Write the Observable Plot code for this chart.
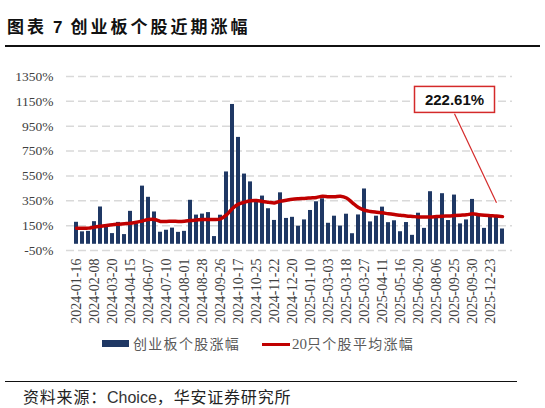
<!DOCTYPE html>
<html>
<head>
<meta charset="utf-8">
<script src="https://cdn.jsdelivr.net/npm/d3@7"></script>
<script src="https://cdn.jsdelivr.net/npm/@observablehq/plot@0.6"></script>
<style>
  html, body { margin: 0; padding: 0; background: #fff; }
  #wrap { position: relative; width: 545px; height: 408px; overflow: hidden; background: #fff; }
  #title { position: absolute; left: 7px; top: 13px; font-family: "Noto Sans CJK SC", sans-serif; font-weight: bold; font-size: 17px; color: #111; white-space: nowrap; letter-spacing: 3px; }
  #title .n { font-family: "Liberation Sans", Arial, sans-serif; margin: 0 5px 0 6px; }
  #rule1 { position: absolute; left: 5px; top: 45px; width: 535px; height: 1.5px; background: #111; }
  #chart { position: absolute; left: 0; top: 50px; }
  #legend { position: absolute; left: 0; top: 333px; width: 545px; height: 22px; font-family: "Noto Sans CJK SC", sans-serif; font-size: 14px; color: #595959; }
  .sw1 { position: absolute; left: 102px; top: 7px; width: 27px; height: 7px; background: #1F3864; }
  .t1 { position: absolute; left: 133px; top: 0px; letter-spacing: 1.3px; white-space: nowrap; }
  .sw2 { position: absolute; left: 262px; top: 9.5px; width: 28px; height: 3px; background: #C00000; }
  .t2 { position: absolute; left: 292px; top: 0px; letter-spacing: 1.3px; white-space: nowrap; }
  .t2 .num { font-family: "Liberation Serif", "DejaVu Serif", serif; letter-spacing: 0; font-size: 15px; }
  #rule2 { position: absolute; left: 5px; top: 381px; width: 512px; height: 1px; background: #111; }
  #source { position: absolute; left: 23px; top: 384px; font-family: "Noto Sans CJK SC", sans-serif; font-size: 16px; color: #222; white-space: nowrap; letter-spacing: 0.8px; }
  #source .en { font-family: "Liberation Sans", Arial, sans-serif; color: #333; letter-spacing: 0; }
</style>
</head>
<body>
<div id="wrap">
  <div id="title">图表<span class="n">7</span>创业板个股近期涨幅</div>
  <div id="rule1"></div>
  <div id="chart"></div>
  <div id="legend">
    <div class="sw1"></div><div class="t1">创业板个股涨幅</div>
    <div class="sw2"></div><div class="t2"><span class="num">20</span>只个股平均涨幅</div>
  </div>
  <div id="rule2"></div>
  <div id="source">资料来源：<span class="en">Choice</span>，华安证券研究所</div>
</div>
<script>
// Tick labels shown on the x axis (every third stock)
const tickLabels = ["2024-01-16","2024-02-08","2024-03-20","2024-04-15","2024-06-07","2024-07-10","2024-08-01","2024-08-28","2024-09-26","2024-10-17","2024-10-25","2024-11-22","2024-12-20","2025-01-10","2025-03-03","2025-03-18","2025-03-27","2025-04-11","2025-05-16","2025-06-20","2025-08-06","2025-09-25","2025-09-30","2025-12-23"];

// 创业板个股涨幅 (%) — one value per stock, 72 stocks
const stockGain = [177,100,104,182,300,148,86,176,78,265,165,468,378,260,97,113,130,96,104,354,235,243,255,62,234,582,1125,860,565,502,340,388,286,192,414,208,217,145,196,272,342,366,169,226,147,242,85,236,445,180,226,299,174,189,101,175,72,250,128,423,225,407,191,396,164,196,361,226,128,228,228,123];

// 20只个股平均涨幅 (%)
const avgGain = [130,130,130,138,145,152,158,162,166,170,177,188,199,200,184,184,185,184,186,191,195,199,199,199,205,237,288,323,339,350,352,345,339,333,347,355,362,366,369,373,377,386,382,382,386,372,334,295,274,264,258,253,245,239,234,228,224,220,220,220,223,226,228,231,234,237,245,238,233,230,227,222.61];

const yTicks = [-50,150,350,550,750,950,1150,1350];
const calloutText = "222.61%";

const data = stockGain.map((v, i) => ({i, v, avg: avgGain[i]}));
const idx = data.map(d => d.i);

const plot = Plot.plot({
  width: 545,
  height: 285,
  marginTop: 26,
  marginBottom: 85,
  marginLeft: 66,
  marginRight: 33,
  style: {fontSize: "13px", color: "#404040", background: "#fff"},
  x: {type: "band", domain: idx, paddingInner: 0.35, paddingOuter: 0.26, axis: null},
  y: {domain: [-50, 1350], axis: null},
  marks: [
    Plot.gridY(yTicks, {stroke: "#d9d9d9", strokeOpacity: 1, strokeWidth: 1.5, strokeDasharray: "8,4"}),
    Plot.axisY(yTicks, {tickSize: 0, tickPadding: 13, tickFormat: d => d + "%", fontSize: 13.5}),
    Plot.axisX(d3.range(0, 72, 3), {tickSize: 0, tickPadding: 8, tickRotate: -90, tickFormat: i => tickLabels[i / 3], fontSize: 14, anchor: "bottom"}),
    Plot.barY(data, {x: "i", y1: 0, y2: "v", fill: "#1F3864"}),
    Plot.lineY(data, {x: "i", y: "avg", stroke: "#C00000", strokeWidth: 3.5, curve: "catmull-rom"}),
    Plot.link([{a: 63, b: 70, y1: 1050, y2: 334}], {x1: "a", x2: "b", y1: "y1", y2: "y2", stroke: "#D42A2A", strokeWidth: 1.2}),
    Plot.text([{x: 63, y: 1160, t: calloutText}], {x: "x", y: "y", text: "t", fontSize: 15, fontWeight: "bold", fill: "#111", className: "callout"})
  ]
});
document.getElementById("chart").appendChild(plot);

// serif tick labels everywhere, then sans for the callout
const svg = d3.select(plot);
svg.attr("font-family", "Liberation Serif, DejaVu Serif, serif").style("font-family", "'Liberation Serif', 'DejaVu Serif', serif");
svg.selectAll("g").attr("font-family", null);
svg.selectAll("text").style("font-family", "'Liberation Serif', 'DejaVu Serif', serif");
svg.selectAll(".callout text").style("font-family", "'Liberation Sans', Arial, sans-serif");

// draw a box around the callout text
const txt = plot.querySelector(".callout text");
if (txt) {
  const r = txt.getBoundingClientRect();
  const s = plot.getBoundingClientRect();
  const cx = r.left - s.left + r.width / 2, cy = r.top - s.top + r.height / 2;
  const w = 80, h = 26;
  svg.insert("rect", ".callout")
    .attr("x", cx - w / 2).attr("y", cy - h / 2)
    .attr("width", w).attr("height", h)
    .attr("fill", "#fff").attr("stroke", "#D42A2A").attr("stroke-width", 1.5);
}
</script>
</body>
</html>
